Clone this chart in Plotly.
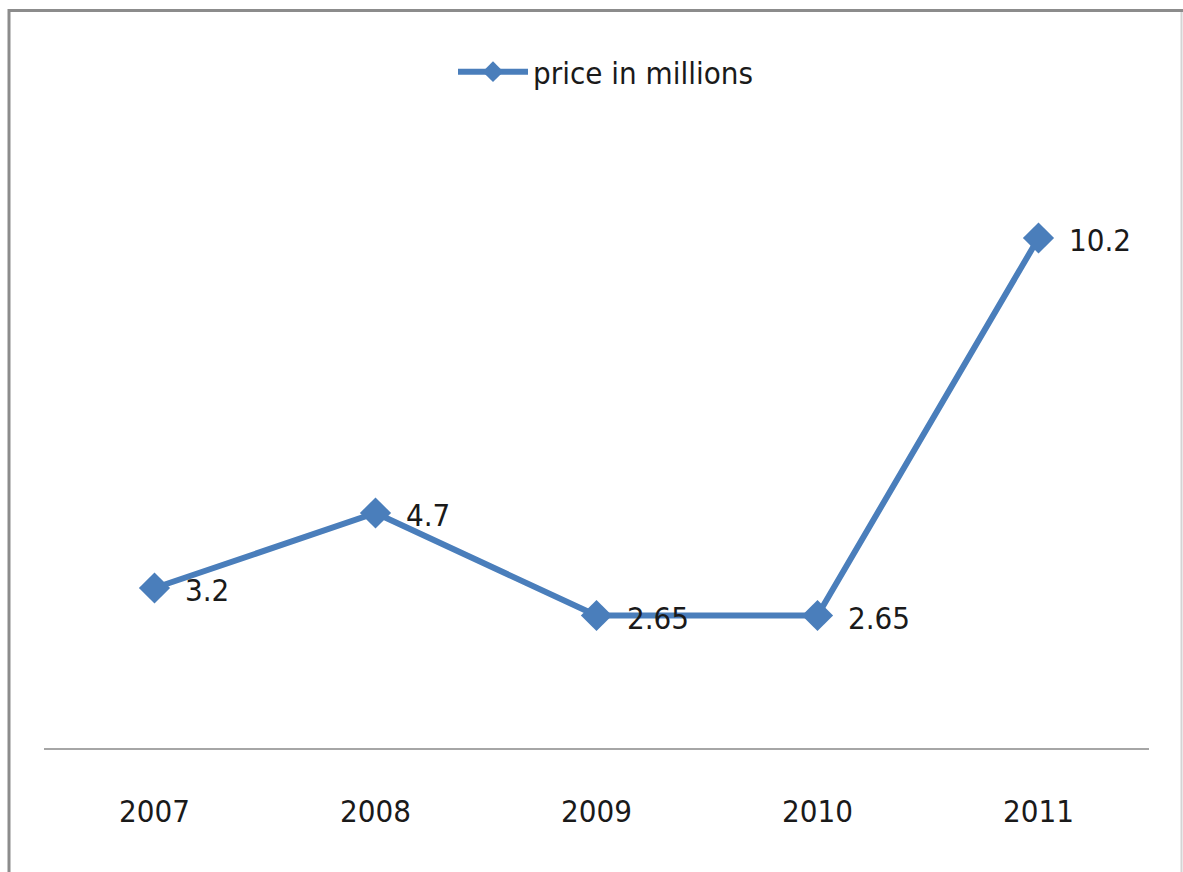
import plotly.graph_objects as go

# Yearly price series (millions)
years = ["2007", "2008", "2009", "2010", "2011"]
prices = [3.2, 4.7, 2.65, 2.65, 10.2]
series_name = "price in millions"

FONT = "DejaVu Sans Condensed, Liberation Sans Narrow, Open Sans, sans-serif"
BLUE = "#4A7EBB"
TEXT = "#1a1a1a"
FSIZE = 31

W, H = 1183, 872
L, R, T, B = 44, 34, 148, 124
PW, PH = W - L - R, H - T - B


def px_x(x):
    return (x - L) / PW


def px_y(y):
    return (H - B - y) / PH


fig = go.Figure()
fig.add_trace(go.Scatter(
    x=years,
    y=prices,
    name=series_name,
    mode="lines+markers",
    line=dict(color=BLUE, width=6),
    marker=dict(symbol="diamond", size=24, color=BLUE),
    cliponaxis=False,
))

# Value labels to the right of each point (category index as x position)
for i, v in enumerate(prices):
    fig.add_annotation(
        x=i, y=v, xref="x", yref="y", text=f"{v:g}", showarrow=False,
        xanchor="left", yanchor="middle", xshift=28, yshift=-2,
        font=dict(family=FONT, size=FSIZE, color=TEXT),
    )

# Frame around the chart area
frame = [
    dict(x0=px_x(8), x1=px_x(1183), y0=px_y(10.5), y1=px_y(10.5), color="#8c8c8c", width=3),
    dict(x0=px_x(9), x1=px_x(9), y0=px_y(9), y1=px_y(880), color="#8c8c8c", width=3),
    dict(x0=px_x(1181.5), x1=px_x(1181.5), y0=px_y(12), y1=px_y(880), color="#d4d4d4", width=2),
]
for f in frame:
    fig.add_shape(type="line", xref="paper", yref="paper",
                  x0=f["x0"], x1=f["x1"], y0=f["y0"], y1=f["y1"],
                  line=dict(color=f["color"], width=f["width"]))

fig.update_layout(
    width=W, height=H,
    margin=dict(l=L, r=R, t=T, b=B, pad=0),
    paper_bgcolor="white",
    plot_bgcolor="white",
    showlegend=True,
    legend=dict(
        orientation="h",
        x=px_x(453), xanchor="left",
        y=px_y(72), yanchor="middle",
        itemwidth=70,
        font=dict(family=FONT, size=FSIZE, color=TEXT),
        bgcolor="rgba(0,0,0,0)",
    ),
    xaxis=dict(
        type="category",
        range=[-0.5, len(years) - 0.5],
        showgrid=False,
        showline=True,
        linecolor="#a6a6a6",
        linewidth=2,
        ticks="",
        ticklabelstandoff=35,
        tickfont=dict(family=FONT, size=FSIZE, color=TEXT),
        zeroline=False,
        fixedrange=True,
    ),
    yaxis=dict(
        range=[0, 12],
        visible=False,
        showgrid=False,
        zeroline=False,
        fixedrange=True,
    ),
)

fig.write_html("out.html")
